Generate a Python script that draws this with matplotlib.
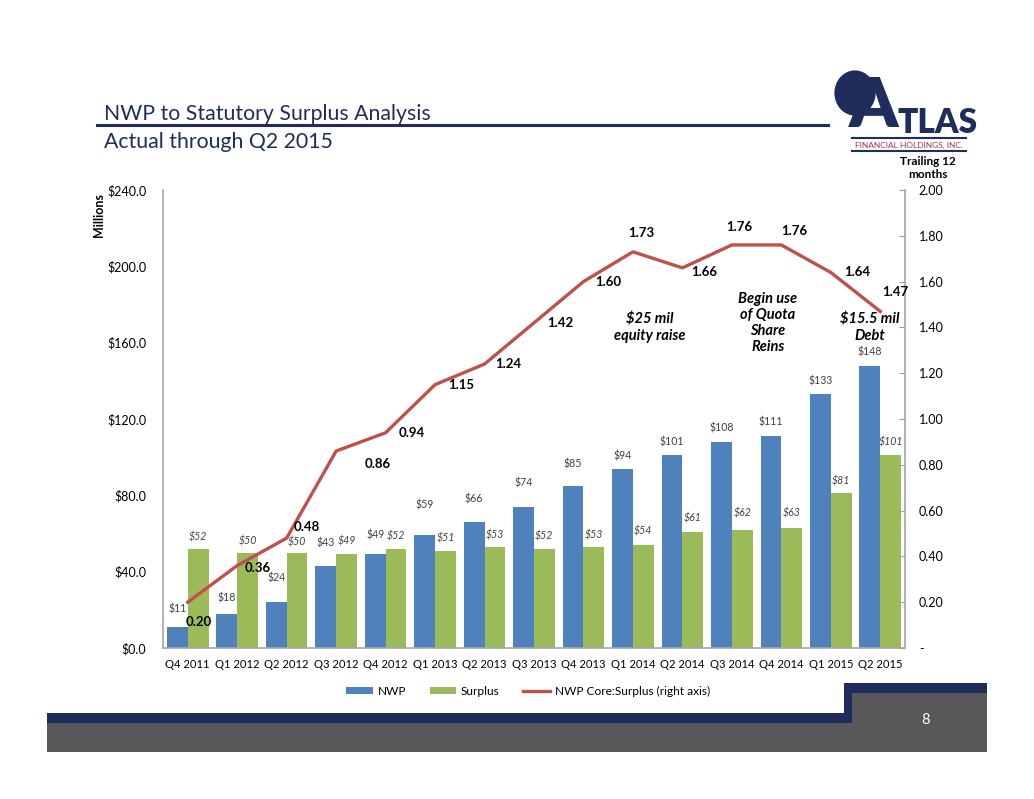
import matplotlib
matplotlib.use("Agg")
import matplotlib.pyplot as plt
from matplotlib.patches import Rectangle, Ellipse
from matplotlib.lines import Line2D
import numpy as np

plt.rcParams["font.family"] = ["Lato", "DejaVu Sans"]

# ---- data -----------------------------------------------------------
quarters = ["Q4 2011", "Q1 2012", "Q2 2012", "Q3 2012", "Q4 2012",
            "Q1 2013", "Q2 2013", "Q3 2013", "Q4 2013", "Q1 2014",
            "Q2 2014", "Q3 2014", "Q4 2014", "Q1 2015", "Q2 2015"]
nwp = [11, 18, 24, 43, 49, 59, 66, 74, 85, 94, 101, 108, 111, 133, 148]
surplus = [52, 50, 50, 49, 52, 51, 53, 52, 53, 54, 61, 62, 63, 81, 101]
ratio = [0.20, 0.36, 0.48, 0.86, 0.94, 1.15, 1.24, 1.42, 1.60, 1.73,
         1.66, 1.76, 1.76, 1.64, 1.47]

# label placement (pixel offsets, hand tuned to the slide)
nwp_dy = [18, 16, 24, 23, 19, 30, 23, 24, 22, 13, 13, 14, 14, 13, 14]
sur_dy = [12, 12, 11, 13, 13, 13, 12, 13, 12, 14, 14, 17, 15, 12, 13]
ratio_off = [(11, -20), (20, -2), (20, 11), (42, -13), (26, 0), (26, 0),
             (24, 0), (26, 0), (25, 0), (8, 19), (22, -4), (7, 18),
             (13, 14), (26, 0), (15, 19)]

BLUE = "#4F81BD"
GREEN = "#9BBB59"
RED = "#C0504D"
NAVY = "#1F2D5C"
GREY = "#58585A"

W, H = 1034, 799
fig = plt.figure(figsize=(W / 100, H / 100), dpi=100)


def fx(px):
    return px / W


def fy(py):
    return 1 - py / H


ax = fig.add_axes([fx(163), fy(648), fx(905) - fx(163), fy(190) - fy(648)])
ax2 = ax.twinx()

x = np.arange(len(quarters))
bw = 0.42
b1 = ax.bar(x - bw / 2, nwp, bw, color=BLUE, label="NWP", zorder=2)
b2 = ax.bar(x + bw / 2, surplus, bw, color=GREEN, label="Surplus", zorder=2)
ln, = ax2.plot(x, ratio, color=RED, lw=2.4, label="NWP Core:Surplus (right axis)")

ax.set_xlim(-0.5, len(quarters) - 0.5)
ax.set_ylim(0, 240)
ax2.set_ylim(0, 2.0)
ax.set_yticks(np.arange(0, 241, 40))
ax.set_yticklabels([f"${v:.1f}" for v in np.arange(0, 241, 40)], fontsize=9)
ax2.set_yticks(np.arange(0, 2.01, 0.2))
ax2.set_yticklabels(["-" if v < 0.01 else f"{v:.2f}" for v in np.arange(0, 2.01, 0.2)],
                    fontsize=9)
ax.set_xticks(x)
ax.set_xticklabels(quarters, fontsize=8.1)
ax.tick_params(axis="x", length=0, pad=8)
ax.tick_params(axis="y", length=0, pad=12)
ax2.tick_params(axis="y", direction="in", length=4, color="#A0A0A0", pad=10)

for a in (ax, ax2):
    for s in ("top", "right", "left", "bottom"):
        a.spines[s].set_visible(False)
ax.spines["left"].set_visible(True)
ax.spines["bottom"].set_visible(True)
ax2.spines["right"].set_visible(True)
for s in (ax.spines["left"], ax.spines["bottom"], ax2.spines["right"]):
    s.set_color("#A6A6A6")
    s.set_linewidth(1.2)

ax.set_ylabel("Millions", fontsize=9, fontweight="bold", labelpad=2)
ax.yaxis.set_label_coords(-0.078, 0.945)

# data labels
for i in range(len(quarters)):
    ax.annotate(f"${nwp[i]}", (x[i] - bw / 2, nwp[i]), xytext=(0, nwp_dy[i]),
                textcoords="offset pixels", ha="center", va="center",
                fontsize=7.6, color="#404040")
    ax.annotate(f"${surplus[i]}", (x[i] + bw / 2, surplus[i]), xytext=(0, sur_dy[i]),
                textcoords="offset pixels", ha="center", va="center",
                fontsize=7.6, style="italic", color="#404040")
    dx, dy = ratio_off[i]
    ax2.annotate(f"{ratio[i]:.2f}", (x[i], ratio[i]), xytext=(dx, dy),
                 textcoords="offset pixels", ha="center", va="center",
                 fontsize=9.5, fontweight="bold", color="black")

# event notes
notes = [("$25 mil\nequity raise", 650, 328),
         ("Begin use\nof Quota\nShare\nReins", 768, 323),
         ("$15.5 mil\nDebt", 870, 328)]
for txt, px, py in notes:
    fig.text(fx(px), fy(py), txt, ha="center", va="center", fontsize=10.5,
             fontweight="bold", style="italic", linespacing=1.2)

fig.text(fx(928), fy(168), "Trailing 12\nmonths", ha="center", va="center",
         fontsize=8.5, fontweight="bold", linespacing=1.3)

# legend
fig.legend(handles=[b1, b2, ln], loc="center", bbox_to_anchor=(fx(528), fy(691)),
           ncol=3, frameon=False, fontsize=8.6, handlelength=2.2,
           handleheight=0.6, columnspacing=2.0, handletextpad=0.4)

# title block
fig.text(fx(104), fy(114), "NWP to Statutory Surplus Analysis", fontsize=15.3,
         color=NAVY, va="center")
fig.text(fx(104), fy(142), "Actual through Q2 2015", fontsize=15.3,
         color=NAVY, va="center")
fig.add_artist(Line2D([fx(97), fx(828)], [fy(125), fy(125)], color=NAVY, lw=2.2))

# logo (rough)
fig.add_artist(Ellipse((fx(855), fy(93)), 44 / W, 48 / H, transform=fig.transFigure,
                       facecolor=NAVY, edgecolor="white", lw=2))
fig.text(fx(898), fy(139), "A", fontsize=50, fontweight="heavy", color=NAVY,
         ha="right", va="bottom")
fig.text(fx(898), fy(139), "TLAS", fontsize=24, fontweight="heavy", color=NAVY,
         ha="left", va="bottom")
fig.add_artist(Line2D([fx(852), fx(966)], [fy(138), fy(138)], color=NAVY, lw=1.5))
fig.text(fx(909), fy(145), "FINANCIAL HOLDINGS, INC.", fontsize=6, color="#A0344F",
         ha="center", va="center")
fig.add_artist(Line2D([fx(852), fx(966)], [fy(151), fy(151)], color=NAVY, lw=1.5))

# footer bands
def band(x0, y0, x1, y1, color):
    fig.add_artist(Rectangle((fx(x0), fy(y1)), fx(x1) - fx(x0), fy(y0) - fy(y1),
                             transform=fig.transFigure, facecolor=color,
                             edgecolor="none"))

band(47, 713, 852, 723, NAVY)
band(844, 683, 987, 693, NAVY)
band(844, 683, 852, 723, NAVY)
band(47, 723, 987, 752, GREY)
band(852, 693, 987, 752, GREY)
fig.text(fx(926), fy(720), "8", fontsize=10.5, color="white", ha="center", va="center")

fig.savefig("out.png", dpi=100)
